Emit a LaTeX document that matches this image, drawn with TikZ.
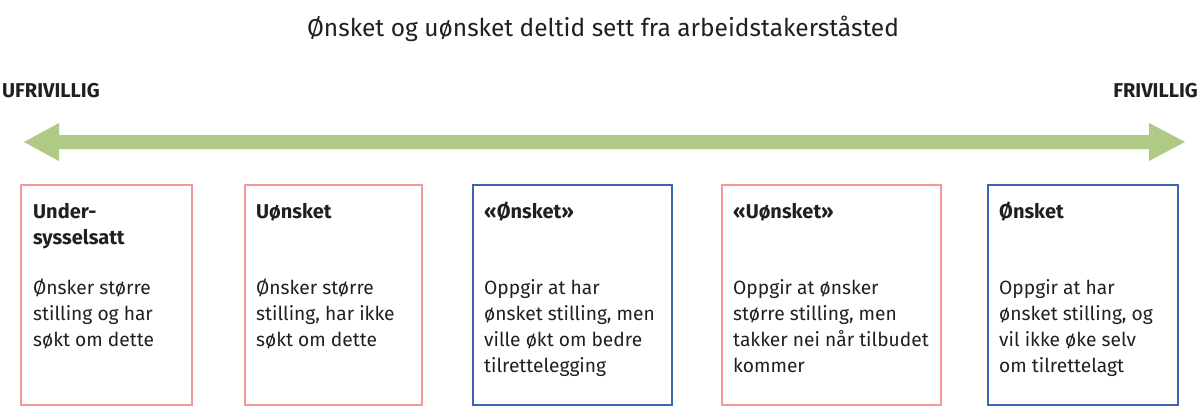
\documentclass[tikz,border=0pt]{standalone}
\usepackage{fontspec}
\setmainfont{Fira Sans}
\definecolor{pinkb}{RGB}{244,153,155}
\definecolor{blueb}{RGB}{60,100,180}
\definecolor{arrowg}{RGB}{174,202,132}
\definecolor{txt}{RGB}{35,31,32}
\begin{document}
\begin{tikzpicture}[x=1pt,y=-1pt,
  frame/.style={draw,line width=2pt,anchor=north west,inner sep=0pt,minimum height=220pt},
  pinkframe/.style={frame,draw=pinkb},
  blueframe/.style={frame,draw=blueb},
  head/.style={anchor=base west,inner sep=0pt,align=left,text=txt,font=\fontsize{20}{26}\selectfont\bfseries},
  body/.style={anchor=base west,inner sep=0pt,align=left,text=txt,font=\fontsize{19.2}{26}\selectfont},
  endlabel/.style={inner sep=0pt,text=txt,font=\fontsize{20}{22}\selectfont\bfseries},
  arrowshape/.style={fill=arrowg,draw=none}]
\useasboundingbox[fill=white] (0,0) rectangle (1200,420);
\node[anchor=base,inner sep=0pt,text=txt,font=\fontsize{24.5}{30}\selectfont] (title) at (603,37) {Ønsket og uønsket deltid sett fra arbeidstakerståsted};
\node[endlabel,anchor=base west] (ufri) at (2,98) {UFRIVILLIG};
\node[endlabel,anchor=base east] (fri) at (1198,98) {FRIVILLIG};
\coordinate (tipL) at (24,142);
\coordinate (tipR) at (1185,142);
\fill[arrowshape] (tipL) -- (59,123) -- (59,135) -- (1149,135) -- (1149,123) -- (tipR) -- (1149,161) -- (1149,149) -- (59,149) -- (59,161) -- cycle;
% boxes
\node[pinkframe,minimum width=171pt] (b1) at (20,184) {};
\node[pinkframe,minimum width=177pt] (b2) at (244,184) {};
\node[blueframe,minimum width=199pt] (b3) at (472,184) {};
\node[pinkframe,minimum width=219pt] (b4) at (721,184) {};
\node[blueframe,minimum width=190pt] (b5) at (987,184) {};
% titles (anchor = baseline of last line)
\node[head] (h1) at (33,244) {Under-\\sysselsatt};
\node[head] (h2) at (256,218) {Uønsket};
\node[head] (h3) at (484,218) {«Ønsket»};
\node[head] (h4) at (733,218) {«Uønsket»};
\node[head] (h5) at (999,218) {Ønsket};
% bodies (anchor = baseline of last line)
\node[body] (t1) at (33,346) {Ønsker større\\stilling og har\\søkt om dette};
\node[body] (t2) at (256,346) {Ønsker større\\stilling, har ikke\\søkt om dette};
\node[body] (t3) at (484,372) {Oppgir at har\\ønsket stilling, men\\ville økt om bedre\\tilrettelegging};
\node[body] (t4) at (733,372) {Oppgir at ønsker\\større stilling, men\\takker nei når tilbudet\\kommer};
\node[body] (t5) at (999,372) {Oppgir at har\\ønsket stilling, og\\vil ikke øke selv\\om tilrettelagt};
\end{tikzpicture}
\end{document}
